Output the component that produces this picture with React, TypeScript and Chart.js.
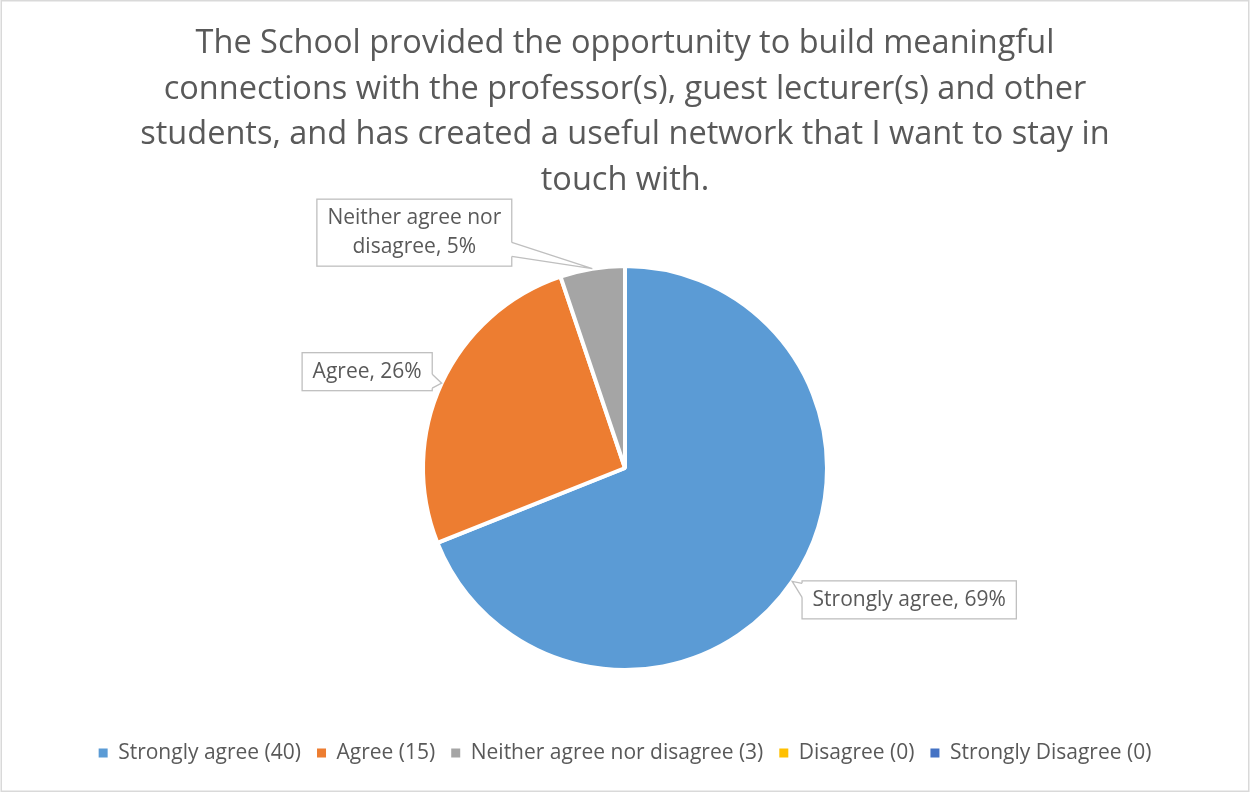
import React, { useEffect, useRef } from "react";
import { Chart, registerables } from "chart.js";

Chart.register(...registerables);

const categories = ["Strongly agree", "Agree", "Neither agree nor disagree", "Disagree", "Strongly Disagree"];
const counts = [40, 15, 3, 0, 0];
const colors = ["#5B9BD5", "#ED7D31", "#A5A5A5", "#FFC000", "#4472C4"];
const titleLines = [
  "The School provided the opportunity to build meaningful",
  "connections with the professor(s), guest lecturer(s) and other",
  "students, and has created a useful network that I want to stay in",
  "touch with.",
];
// styling: offset of each callout box centre from its slice's edge point
const calloutOffsets = [[117, 18.5], [-74.5, -11.5], [-178, -36], [0, 0], [0, 0]];

const FONT = "'Open Sans', Lato, sans-serif";
const TEXT = "#595959";

function wrapText(ctx: CanvasRenderingContext2D, text: string, maxW: number): string[] {
  const words = text.split(" ");
  const lines: string[] = [];
  let cur = "";
  for (const w of words) {
    const t = cur ? cur + " " + w : w;
    if (ctx.measureText(t).width > maxW && cur) {
      lines.push(cur);
      cur = w;
    } else cur = t;
  }
  if (cur) lines.push(cur);
  return lines;
}

const clamp = (v: number, a: number, b: number) => Math.max(a, Math.min(b, v));

const framePlugin = {
  id: "frame",
  beforeDraw(chart: any) {
    const { ctx, width, height } = chart;
    ctx.save();
    ctx.fillStyle = "#ffffff";
    ctx.fillRect(0, 0, width, height);
    ctx.strokeStyle = "#D9D9D9";
    ctx.lineWidth = 1.5;
    ctx.strokeRect(1.25, 0.75, width - 2.5, height - 1.5);
    ctx.restore();
  },
};

const calloutPlugin = {
  id: "callouts",
  afterDatasetsDraw(chart: any) {
    const ctx: CanvasRenderingContext2D = chart.ctx;
    const meta = chart.getDatasetMeta(0);
    const data = chart.data.datasets[0].data as number[];
    const total = data.reduce((a, b) => a + b, 0);
    ctx.save();
    ctx.font = `21px ${FONT}`;
    meta.data.forEach((arc: any, i: number) => {
      const v = data[i];
      if (!v) return;
      const { x, y, startAngle, endAngle, outerRadius } = arc.getProps(
        ["x", "y", "startAngle", "endAngle", "outerRadius"],
        true
      );
      const mid = (startAngle + endAngle) / 2;
      const ax = x + Math.cos(mid) * outerRadius;
      const ay = y + Math.sin(mid) * outerRadius;
      const text = `${categories[i]}, ${Math.round((v / total) * 100)}%`;
      const lines = wrapText(ctx, text, 215);
      const lh = 29;
      const tw = Math.max(...lines.map((l) => ctx.measureText(l).width));
      const w = tw + 21;
      const h = lines.length * lh + 9;
      const [ox, oy] = calloutOffsets[i];
      const cx = ax + ox;
      const cy = ay + oy;
      const L = cx - w / 2, T = cy - h / 2, R = cx + w / 2, B = cy + h / 2;

      // box
      ctx.fillStyle = "#ffffff";
      ctx.fillRect(L, T, w, h);
      ctx.strokeStyle = "#BFBFBF";
      ctx.lineWidth = 1.3;
      ctx.strokeRect(L, T, w, h);

      // wedge
      const nx = (ax - cx) / (w / 2);
      const ny = (ay - cy) / (h / 2);
      const hb = 7;
      let b1: number[], b2: number[], i1: number[], i2: number[];
      if (Math.abs(nx) >= Math.abs(ny)) {
        const sx = nx > 0 ? R : L;
        const inw = nx > 0 ? -2 : 2;
        const c = clamp(ay, T + h * 0.25, B - h * 0.25);
        b1 = [sx, c - hb]; b2 = [sx, c + hb];
        i1 = [sx + inw, c - hb]; i2 = [sx + inw, c + hb];
      } else {
        const sy = ny > 0 ? B : T;
        const inw = ny > 0 ? -2 : 2;
        const c = clamp(ax, L + w * 0.25, R - w * 0.25);
        b1 = [c - hb, sy]; b2 = [c + hb, sy];
        i1 = [c - hb, sy + inw]; i2 = [c + hb, sy + inw];
      }
      ctx.beginPath();
      ctx.moveTo(i1[0], i1[1]);
      ctx.lineTo(b1[0], b1[1]);
      ctx.lineTo(ax, ay);
      ctx.lineTo(b2[0], b2[1]);
      ctx.lineTo(i2[0], i2[1]);
      ctx.closePath();
      ctx.fillStyle = "#ffffff";
      ctx.fill();
      ctx.beginPath();
      ctx.moveTo(b1[0], b1[1]);
      ctx.lineTo(ax, ay);
      ctx.lineTo(b2[0], b2[1]);
      ctx.stroke();

      // text
      ctx.fillStyle = TEXT;
      ctx.textAlign = "center";
      ctx.textBaseline = "middle";
      lines.forEach((l, k) => {
        ctx.fillText(l, cx, cy - ((lines.length - 1) * lh) / 2 + k * lh);
      });
    });
    ctx.restore();
  },
};

export default function App() {
  const ref = useRef<HTMLCanvasElement>(null);
  useEffect(() => {
    if (!ref.current) return;
    const chart = new Chart(ref.current, {
      type: "pie",
      data: {
        labels: categories.map((c, i) => `${c} (${counts[i]})`),
        datasets: [
          {
            data: counts,
            backgroundColor: colors,
            borderColor: "#ffffff",
            borderWidth: 4,
            radius: 202,
          } as any,
        ],
      },
      options: {
        responsive: false,
        animation: false,
        layout: { padding: { top: 0, bottom: 18.5, left: 0, right: 0 } },
        plugins: {
          title: {
            display: true,
            text: titleLines,
            color: TEXT,
            font: { family: FONT, size: 32.5, weight: "normal", lineHeight: 45.5 / 32.5 },
            padding: { top: 21, bottom: 6.5 },
          },
          legend: {
            position: "bottom",
            labels: {
              color: TEXT,
              font: { family: FONT, size: 21 },
              boxWidth: 9,
              boxHeight: 9,
              padding: 16,
              generateLabels: () =>
                categories.map((c, i) => ({
                  text: `${c} (${counts[i]})`,
                  fillStyle: colors[i],
                  strokeStyle: colors[i],
                  lineWidth: 0,
                  hidden: false,
                  index: i,
                  fontColor: TEXT,
                })),
            },
          },
          tooltip: { enabled: false },
        },
      } as any,
      plugins: [framePlugin, calloutPlugin],
    });
    return () => chart.destroy();
  }, []);
  return (
    <div style={{ position: "absolute", left: 0, top: 0, width: 1250, height: 792 }}>
      <canvas ref={ref} width={1250} height={792} style={{ width: 1250, height: 792, display: "block" }} />
    </div>
  );
}
